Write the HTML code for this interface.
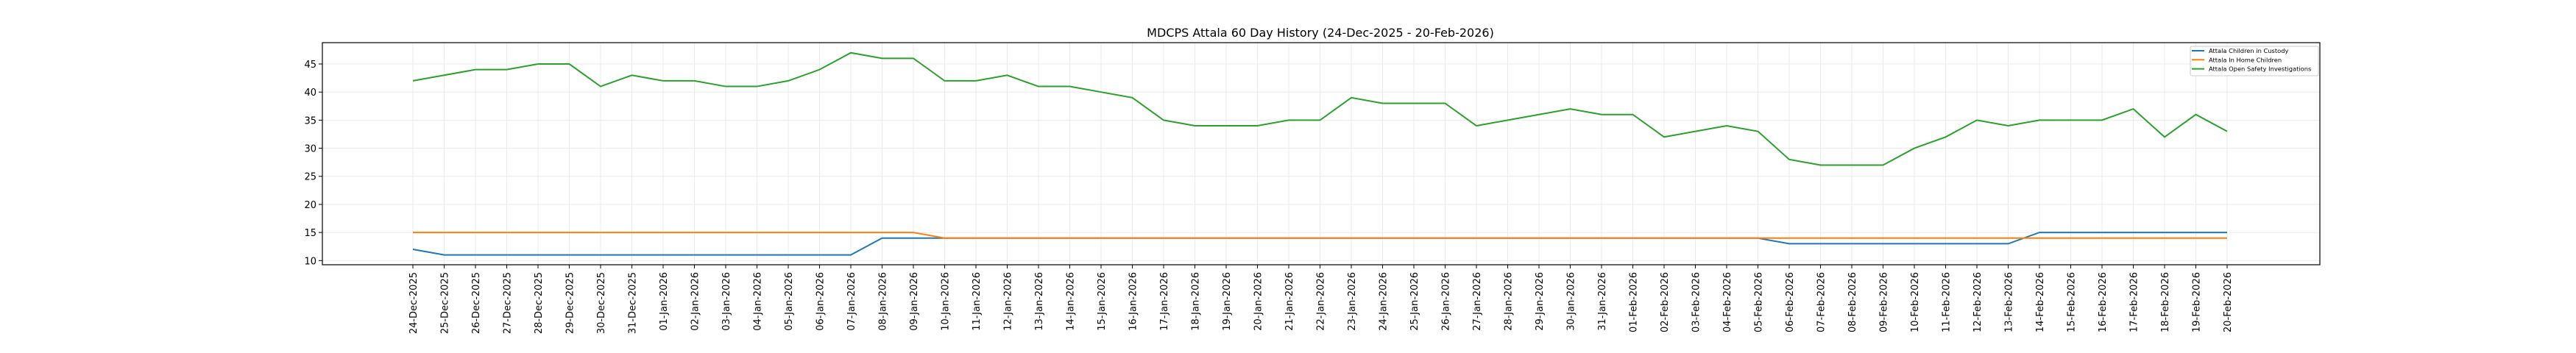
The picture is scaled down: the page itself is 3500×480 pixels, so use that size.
<!DOCTYPE html>
<html><head><meta charset="utf-8"><style>
html,body{margin:0;padding:0;background:#fff;}
svg{display:block;font-family:"DejaVu Sans","Liberation Sans",sans-serif;}
</style></head><body>
<svg id="c" width="3500" height="480" xmlns="http://www.w3.org/2000/svg"></svg>
<script>
const s=document.getElementById('c');
const L=438,R=3152,T=58,B=360,X0=561,DX=42.5;
const y=v=>354.3-(v-10)*7.637;
const x=i=>X0+i*DX;
const mon=['Jan','Feb','Mar','Apr','May','Jun','Jul','Aug','Sep','Oct','Nov','Dec'];
const dates=[];let d=new Date(Date.UTC(2025,11,24));
for(let i=0;i<59;i++){dates.push(String(d.getUTCDate()).padStart(2,'0')+'-'+mon[d.getUTCMonth()]+'-'+d.getUTCFullYear());d=new Date(d.getTime()+864e5);}
const g=[42,43,44,44,45,45,41,43,42,42,41,41,42,44,47,46,46,42,42,43,41,41,40,39,35,34,34,34,35,35,39,38,38,38,34,35,36,37,36,36,32,33,34,33,28,27,27,27,30,32,35,34,35,35,35,37,32,36,33];
const o=[],b=[];
for(let i=0;i<59;i++){o.push(i<=16?15:14);b.push(i==0?12:i<=14?11:i<=43?14:i<=51?13:15);}
let h='';
for(let i=0;i<59;i++){h+=`<line x1="${x(i)}" y1="${T}" x2="${x(i)}" y2="${B}" stroke="#ebebeb" stroke-width="1"/>`;}
for(let v=10;v<=45;v+=5){h+=`<line x1="${L}" y1="${y(v)}" x2="${R}" y2="${y(v)}" stroke="#ebebeb" stroke-width="1"/>`;
h+=`<line x1="${L-5}" y1="${y(v)}" x2="${L}" y2="${y(v)}" stroke="#000"/>`;
h+=`<text x="${L-8}" y="${y(v)+5}" font-size="13" text-anchor="end">${v}</text>`;}
const pl=(a,c)=>`<polyline fill="none" stroke="${c}" stroke-width="2" points="${a.map((v,i)=>x(i)+','+y(v)).join(' ')}"/>`;
h+=pl(b,'#1f77b4')+pl(o,'#ff7f0e')+pl(g,'#2ca02c');
h+=`<rect x="${L}" y="${T}" width="${R-L}" height="${B-T}" fill="none" stroke="#000" stroke-width="1.2"/>`;
for(let i=0;i<59;i++){h+=`<line x1="${x(i)}" y1="${B}" x2="${x(i)}" y2="${B+5}" stroke="#000"/>`;
h+=`<text transform="translate(${x(i)+5},${B+10}) rotate(-90)" font-size="13" text-anchor="end">${dates[i]}</text>`;}
h+=`<text x="1794" y="50" font-size="16" text-anchor="middle">MDCPS Attala 60 Day History (24-Dec-2025 - 20-Feb-2026)</text>`;
h+=`<rect x="2976" y="63" width="174" height="40" fill="#fff" stroke="#ccc" rx="2"/>`;
const lg=[['#1f77b4','Attala Children in Custody'],['#ff7f0e','Attala In Home Children'],['#2ca02c','Attala Open Safety Investigations']];
lg.forEach((e,k)=>{const yy=69+k*12.3;h+=`<line x1="2978" y1="${yy}" x2="2995" y2="${yy}" stroke="${e[0]}" stroke-width="2"/><text x="3001" y="${yy+3}" font-size="8.3">${e[1]}</text>`;});
s.innerHTML=h;
</script>
</body></html>
